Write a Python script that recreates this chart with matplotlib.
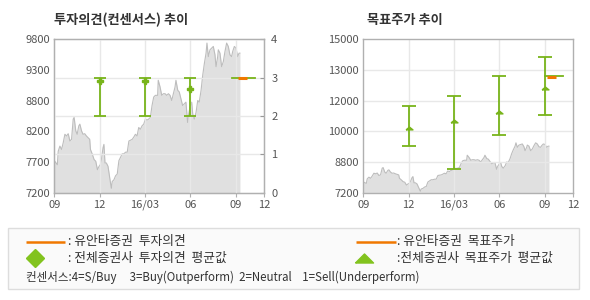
import matplotlib
matplotlib.use("Agg")
import matplotlib.pyplot as plt
import matplotlib.patches as mpatches
import numpy as np

plt.rcParams['font.family'] = ['Noto Sans CJK KR', 'DejaVu Sans']

# ---- data ----
price_month = [0.00, 0.20, 0.26, 0.37, 0.48, 0.59, 0.70, 0.81, 0.92, 1.03, 1.14, 1.25, 1.31, 1.42,
               1.51, 1.62, 1.69, 1.80, 1.90, 2.01, 2.12, 2.23, 2.34, 2.39, 2.52, 2.63, 2.74, 2.85,
               2.96, 3.04, 3.11, 3.22, 3.28, 3.35, 3.44, 3.55, 3.66, 3.77, 3.83, 3.94, 4.05, 4.16,
               4.27, 4.38, 4.49, 4.60, 4.71, 4.82, 4.93, 5.04, 5.15, 5.26, 5.36, 5.47, 5.58, 5.69,
               5.80, 5.91, 6.02, 6.13, 6.24, 6.35, 6.46, 6.57, 6.68, 6.83, 6.87, 6.99, 7.10, 7.21,
               7.32, 7.43, 7.54, 7.65, 7.76, 7.87, 7.98, 8.04, 8.16, 8.26, 8.37, 8.48, 8.59, 8.70,
               8.81, 8.86, 8.97, 9.08, 9.15, 9.25, 9.37, 9.48, 9.58, 9.70, 9.81, 9.92, 10.03, 10.09,
               10.18, 10.29, 10.40, 10.51, 10.62, 10.69, 10.80, 10.84, 10.95, 11.06, 11.17, 11.28,
               11.39, 11.50, 11.61, 11.72, 11.79, 11.90, 12.01, 12.12, 12.21, 12.27]
price = [7744, 7674, 7904, 7990, 7933, 8048, 8190, 8162, 8200, 8076, 8105, 8448, 8477, 8248,
         8190, 8333, 8362, 8248, 8190, 8200, 8162, 8133, 8105, 7933, 7847, 7761, 7733, 7590,
         7647, 7676, 7761, 7962, 8019, 7704, 7704, 7647, 7458, 7275, 7390, 7418, 7487, 7516,
         7744, 7801, 7859, 7859, 7887, 7887, 8076, 8090, 8105, 8145, 8190, 8162, 8305, 8276,
         8333, 8362, 8448, 8431, 8448, 8477, 8677, 8821, 8850, 8850, 9106, 8992, 8850, 8878,
         8878, 8850, 8878, 8850, 8763, 8878, 8992, 9106, 8935, 8907, 8792, 8677, 8706, 8735,
         8391, 8505, 8649, 8735, 8534, 8448, 8563, 8763, 8735, 8934, 9192, 9393, 9565, 9736,
         9507, 9622, 9650, 9679, 9536, 9336, 9507, 9622, 9565, 9336, 9422, 9593,
         9736, 9679, 9536, 9507, 9593, 9679, 9650, 9507, 9565, 9565]

x_ticks = [0, 3, 6, 9, 12, 13.88]
x_labels = ['09', '12', '16/03', '06', '09', '12']

# opinion consensus (left)
op_month = [3, 6, 9]
op_mean = [2.91, 2.91, 2.70]
op_min = [2.0, 2.0, 2.0]
op_max = [3.0, 3.0, 3.0]
op_line_x = [11.76, 13.24]
op_line_y = 3.0
op_yuanta_x = [12.16, 12.76]
op_yuanta_y = 2.98

price_ticks_l = list(np.linspace(7200, 9800, 6))
price_labels_l = ['7200', '7700', '8200', '8800', '9300', '9800']
op_ticks = [0, 1, 2, 3, 4]

# target price (right)
tp_month = [3, 6, 9, 12]
tp_mean = [10500, 10840, 11320, 12540]
tp_min = [9600, 8400, 10120, 11130]
tp_max = [11600, 12110, 13140, 14120]
tp_line_x = [12.0, 13.2]
tp_line_y = 13140
tp_yuanta_x = [12.17, 12.74]
tp_yuanta_y = 13090

price_ticks_r = list(np.linspace(7200, 15000, 6))
price_labels_r = ['7200', '8800', '10000', '12000', '13000', '15000']

# ---- style ----
GREEN = '#78b41a'
GREEN_M = '#82c31e'
ORANGE = '#f07800'
FILL = '#e0e0e0'
LINE = '#bdbdbd'
GRID = '#e8e8e8'
SPINE = '#b0b0b0'
TXT = '#555555'
XMAX = 13.88

fig = plt.figure(figsize=(5.9, 3.0), dpi=100)
W, H = 590, 300


def rect(x0, x1, y0, y1):
    return [x0 / W, 1 - y1 / H, (x1 - x0) / W, (y1 - y0) / H]


def style_base(ax, ylim, yticks, ylabels):
    ax.set_xlim(0, XMAX)
    ax.set_ylim(*ylim)
    ax.set_yticks(yticks)
    ax.set_yticklabels(ylabels)
    ax.set_xticks(x_ticks)
    ax.set_xticklabels(x_labels)
    ax.tick_params(axis='y', length=0, pad=3, labelsize=8, labelcolor=TXT)
    ax.tick_params(axis='x', length=3, direction='out', color=SPINE, pad=2,
                   labelsize=8, labelcolor=TXT)
    for s in ax.spines.values():
        s.set_color(SPINE)
        s.set_linewidth(1)
    ax.patch.set_facecolor('white')


# ---- left chart ----
axL = fig.add_axes(rect(54.3, 264.3, 39.3, 192.7))
style_base(axL, (7200, 9800), price_ticks_l, price_labels_l)
axL.fill_between(price_month, price, 7200, color=FILL, lw=0, zorder=1)
axL.plot(price_month, price, color=LINE, lw=0.8, zorder=2)

axL2 = axL.twinx()
axL2.set_ylim(0, 4)
axL2.set_yticks(op_ticks)
axL2.set_yticklabels([str(t) for t in op_ticks])
axL2.tick_params(axis='y', length=3, direction='in', color='#999999', pad=5,
                 labelsize=8, labelcolor=TXT)
for s in axL2.spines.values():
    s.set_color(SPINE)
for t in [1, 2, 3]:
    axL2.axhline(t, color=GRID, lw=1, zorder=0.5)
for xt in x_ticks[1:-1]:
    axL2.axvline(xt, color=GRID, lw=1, zorder=0.5)
err = [np.array(op_mean) - np.array(op_min), np.array(op_max) - np.array(op_mean)]
axL2.errorbar(op_month, op_mean, yerr=err, fmt='none', ecolor=GREEN, elinewidth=1.3,
              capsize=4.5, capthick=1.3, zorder=3)
axL2.plot(op_month, op_mean, linestyle='none', marker='P', markersize=3.8,
          color=GREEN, zorder=4)
axL2.plot(op_line_x, [op_line_y] * 2, color=GREEN, lw=1.3, zorder=3)
axL2.plot(op_yuanta_x, [op_yuanta_y] * 2, color=ORANGE, lw=2.2, zorder=4,
          solid_capstyle='butt')

# ---- right chart ----
axR = fig.add_axes(rect(363.3, 573.3, 39.3, 192.7))
style_base(axR, (7200, 15000), price_ticks_r, price_labels_r)
axR.fill_between(price_month, price, 7200, color=FILL, lw=0, zorder=1)
axR.plot(price_month, price, color=LINE, lw=0.8, zorder=2)
for t in price_ticks_r[1:-1]:
    axR.axhline(t, color=GRID, lw=1, zorder=2.5)
for xt in x_ticks[1:-1]:
    axR.axvline(xt, color=GRID, lw=1, zorder=2.5)
errR = [np.array(tp_mean) - np.array(tp_min), np.array(tp_max) - np.array(tp_mean)]
axR.errorbar(tp_month, tp_mean, yerr=errR, fmt='none', ecolor=GREEN, elinewidth=1.3,
             capsize=5, capthick=1.3, zorder=3)
tri_s = [(-1.0, -0.4), (1.0, -0.4), (0.0, 0.4), (-1.0, -0.4)]
axR.plot(tp_month, tp_mean, linestyle='none', marker=tri_s, markersize=5,
         color=GREEN, zorder=4)
axR.plot(tp_line_x, [tp_line_y] * 2, color=GREEN, lw=1.3, zorder=3)
axR.plot(tp_yuanta_x, [tp_yuanta_y] * 2, color=ORANGE, lw=2.2, zorder=4,
         solid_capstyle='butt')

# ---- titles ----
fig.text(54 / W, 1 - 20 / H, '투자의견(컨센서스) 추이', fontsize=9.5, fontweight='bold',
         color='#333333', va='center', ha='left')
fig.text(367 / W, 1 - 20 / H, '목표주가 추이', fontsize=9.5, fontweight='bold',
         color='#333333', va='center', ha='left')

# ---- legend box ----
lax = fig.add_axes([0, 0, 1, 1], facecolor='none')
lax.set_xlim(0, W)
lax.set_ylim(H, 0)
lax.axis('off')
lax.add_patch(mpatches.Rectangle((8, 228), 571, 61, facecolor='#fafafa',
                                 edgecolor='#dddddd', lw=1, zorder=0))
LFS = 9.2
lax.plot([26, 65], [241.5, 241.5], color=ORANGE, lw=1.8, solid_capstyle='butt')
lax.text(68, 241.5, ': 유안타증권  투자의견', fontsize=LFS, color='#333333', va='center')
lax.plot([35], [258], marker='D', markersize=9, color=GREEN_M, linestyle='none')
lax.text(68, 258, ': 전체증권사  투자의견  평균값', fontsize=LFS, color='#333333', va='center')
lax.plot([356, 396], [241.5, 241.5], color=ORANGE, lw=1.8, solid_capstyle='butt')
lax.text(397, 241.5, ': 유안타증권  목표주가', fontsize=LFS, color='#333333', va='center')
tri = [(-1.0, -0.5), (1.0, -0.5), (0.0, 0.5), (-1.0, -0.5)]
lax.plot([364], [258], marker=tri, markersize=13, color=GREEN_M, linestyle='none')
lax.text(397, 258, ':전체증권사  목표주가  평균값', fontsize=LFS, color='#333333', va='center')
lax.text(26, 277, '컨센서스:4=S/Buy     3=Buy(Outperform)  2=Neutral    1=Sell(Underperform)',
         fontsize=8.3, color='#333333', va='center')

fig.savefig('out.png', dpi=100)
